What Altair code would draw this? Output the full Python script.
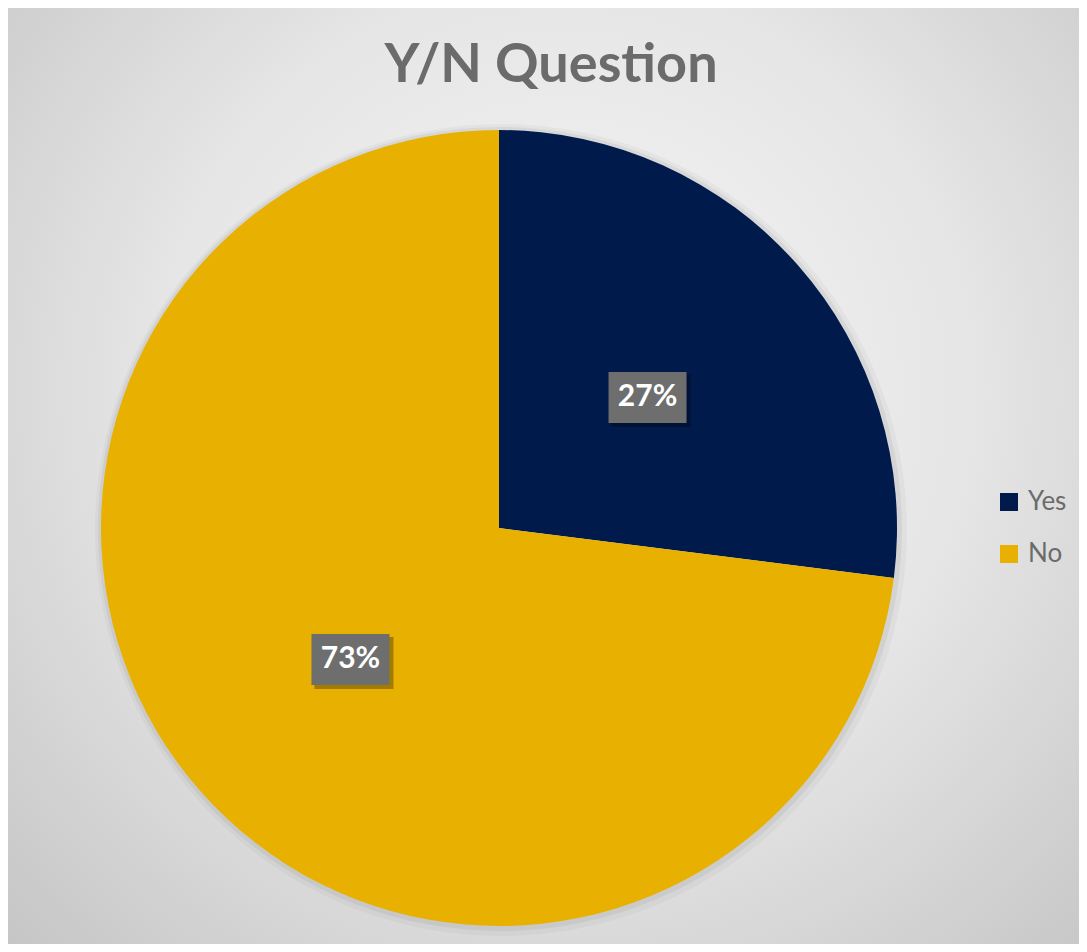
import altair as alt
import pandas as pd

answers = ["Yes", "No"]
shares = [27, 73]
slice_colors = ["#001A4C", "#E8B000"]
title_text = "Y/N Question"

W, H = 1071, 936
CX, CY = 491, 520
R = 398
LR = 198

df = pd.DataFrame({"answer": answers, "share": shares, "idx": list(range(len(answers)))})
base = alt.Chart(df)

bg = alt.Chart(alt.Data(values=[{}])).mark_rect(
    fill=alt.RadialGradient(
        gradient="radial",
        stops=[alt.GradientStop(color="#f6f6f6", offset=0),
               alt.GradientStop(color="#e6e6e6", offset=0.5),
               alt.GradientStop(color="#c4c4c4", offset=1)],
        x1=0.52, y1=0.42, x2=0.52, y2=0.42, r1=0, r2=0.75)
).encode(x=alt.value(0), x2=alt.value(W), y=alt.value(0), y2=alt.value(H))

shadow1 = base.mark_arc(radius=R + 8, color="black", opacity=0.03).encode(
    theta=alt.Theta("share:Q", stack=True), order=alt.Order("idx:Q"),
    x=alt.value(CX + 2), y=alt.value(CY + 2))
shadow2 = base.mark_arc(radius=R + 4, color="black", opacity=0.05).encode(
    theta=alt.Theta("share:Q", stack=True), order=alt.Order("idx:Q"),
    x=alt.value(CX + 1), y=alt.value(CY + 1))

pie = base.mark_arc(radius=R).encode(
    theta=alt.Theta("share:Q", stack=True),
    order=alt.Order("idx:Q"),
    color=alt.Color("answer:N", sort=answers,
                    scale=alt.Scale(domain=answers, range=slice_colors),
                    legend=alt.Legend(title=None, orient="none", legendX=988, legendY=481,
                                      symbolType="square", symbolSize=324, symbolStrokeWidth=0,
                                      labelFontSize=26, labelFont="Lato", labelColor="#6b6b6b",
                                      rowPadding=26, labelOffset=6, padding=0)),
    x=alt.value(CX), y=alt.value(CY))

lab = base.transform_joinaggregate(total="sum(share)").transform_window(
    cum="sum(share)", sort=[alt.SortField("idx")], frame=[None, 0]
).transform_calculate(
    mid="(datum.cum - datum.share/2)/datum.total*2*PI"
).transform_calculate(
    px=f"{CX} + {LR}*sin(datum.mid)",
    py=f"{CY} - {LR}*cos(datum.mid)"
).transform_calculate(
    bx1="datum.px - 39", bx2="datum.px + 39",
    by1="datum.py - 25", by2="datum.py + 26",
    sx1="datum.px - 36", sx2="datum.px + 43",
    sy1="datum.py - 22", sy2="datum.py + 30",
    label="datum.share + '%'"
)

box_shadow = lab.mark_rect(fill="black", opacity=0.3).encode(
    x=alt.X("sx1:Q", scale=None, axis=None), x2="sx2:Q",
    y=alt.Y("sy1:Q", scale=None, axis=None), y2="sy2:Q")
box = lab.mark_rect(fill="#6e6e6e").encode(
    x=alt.X("bx1:Q", scale=None, axis=None), x2="bx2:Q",
    y=alt.Y("by1:Q", scale=None, axis=None), y2="by2:Q")
txt = lab.mark_text(font="Lato", fontSize=30, fontWeight="bold", color="white",
                    align="center", baseline="middle").encode(
    x=alt.X("px:Q", scale=None, axis=None),
    y=alt.Y("py:Q", scale=None, axis=None),
    text="label:N")

title = alt.Chart(alt.Data(values=[{}])).mark_text(
    text=title_text, font="Lato", fontSize=54, fontWeight="bold", color="#6b6b6b",
    align="center", baseline="alphabetic").encode(x=alt.value(543), y=alt.value(74))

chart = alt.layer(bg, shadow1, shadow2, pie, box_shadow, box, txt, title).properties(
    width=W, height=H, padding=0
).configure_view(strokeWidth=0)

chart.save("out.html", embed_options={"renderer": "svg", "actions": False})
